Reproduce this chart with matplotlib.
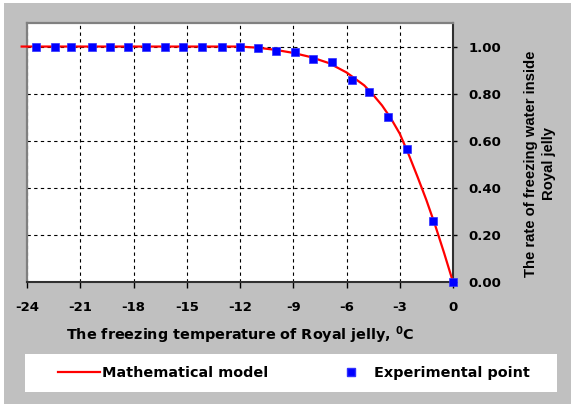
import matplotlib
matplotlib.use("Agg")
import matplotlib.pyplot as plt
from matplotlib.patches import Rectangle
from matplotlib.lines import Line2D

# ---- data ----
exp_temp = [-23.5, -22.4, -21.5, -20.35, -19.35, -18.3, -17.3, -16.2, -15.2, -14.15,
            -13.0, -12.0, -11.0, -9.95, -8.9, -7.9, -6.8, -5.7, -4.75, -3.65,
            -2.6, -1.1, 0.0]
exp_rate = [1.0, 1.0, 1.0, 1.0, 1.0, 1.0, 1.0, 1.0, 1.0, 1.0,
            1.0, 1.0, 0.994, 0.983, 0.977, 0.949, 0.933, 0.86, 0.807, 0.699,
            0.566, 0.261, 0.0]

model_temp = [-24.3, -12.0, -11.0, -10.0, -9.0, -8.0, -7.0, -6.0, -5.0, -4.5, -4.0,
              -3.5, -3.0, -2.5, -2.0, -1.5, -1.0, -0.5, 0.0]
model_rate = [1.0, 1.0, 0.995, 0.986, 0.973, 0.955, 0.93, 0.89, 0.835, 0.795, 0.75,
              0.695, 0.63, 0.542, 0.447, 0.348, 0.24, 0.123, 0.0]

x_ticks = [-24, -21, -18, -15, -12, -9, -6, -3, 0]
y_ticks = [0.0, 0.2, 0.4, 0.6, 0.8, 1.0]

xlabel = r"The freezing temperature of Royal jelly, $^{\mathbf{0}}$C"
ylabel = "The rate of freezing water inside\nRoyal jelly"
legend_labels = ["Mathematical model", "Experimental point"]

plt.rcParams['font.family'] = ['DejaVu Sans']
plt.rcParams['font.weight'] = 'bold'
plt.rcParams['mathtext.fontset'] = 'dejavusans'

W, H = 571, 408
fig = plt.figure(figsize=(W / 100, H / 100), dpi=100, facecolor='white')

# gray background panel
fig.patches.append(Rectangle((4 / W, 4 / H), 1 - 4 / W, 1 - 7 / H,
                             transform=fig.transFigure, facecolor='#C0C0C0',
                             edgecolor='none', zorder=-10))
# white legend box
fig.patches.append(Rectangle((25 / W, 1 - 392 / H), 532 / W, 38 / H,
                             transform=fig.transFigure, facecolor='white',
                             edgecolor='none', zorder=-5))

ax = fig.add_axes([27 / W, 1 - 282 / H, 426 / W, 259 / H])
ax.set_zorder(2)
ax.set_facecolor('white')
ax.set_xlim(-24, 0)
ax.set_ylim(0, 1.1)

ax.plot(model_temp, model_rate, color='#FF0000', lw=1.6, clip_on=False, zorder=3)
ax.plot(exp_temp, exp_rate, linestyle='none', marker='s', markersize=5.8,
        markerfacecolor='#0000FF', markeredgecolor='#3030FF', markeredgewidth=0.5,
        clip_on=False, zorder=4)

ax.set_xticks(x_ticks)
ax.set_xticklabels([str(t) for t in x_ticks])
ax.set_yticks(y_ticks)
ax.set_yticklabels([f"{v:.2f}" for v in y_ticks])
ax.yaxis.tick_right()
ax.tick_params(axis='x', direction='out', length=4, width=1, pad=10,
               labelsize=9.5, colors='black')
ax.tick_params(axis='y', direction='out', length=3, width=1, pad=8,
               labelsize=9.5, colors='black')
for lbl in ax.get_xticklabels() + ax.get_yticklabels():
    lbl.set_fontweight('bold')

ax.grid(True, color='black', linestyle=(0, (3, 3)), linewidth=0.8)
ax.set_axisbelow(True)

for side in ['left', 'top']:
    ax.spines[side].set_color('#808080')
    ax.spines[side].set_linewidth(1.6)
for side in ['right', 'bottom']:
    ax.spines[side].set_color('#303030')
    ax.spines[side].set_linewidth(1.5)

ax.set_xlabel(xlabel, fontsize=10.4, fontweight='bold', labelpad=7)

fig.text(540 / W, 1 - 164 / H, ylabel, rotation=90, ha='center', va='center',
         multialignment='center', fontsize=10.7, fontweight='bold', linespacing=1.45,
         family=['Liberation Sans', 'DejaVu Sans'])

handles = [Line2D([], [], color='#FF0000', lw=1.6),
           Line2D([], [], linestyle='none', marker='s', markersize=5.8,
                  markerfacecolor='#0000FF', markeredgecolor='#3030FF')]
leg = fig.legend(handles, legend_labels, loc='center left',
                 bbox_to_anchor=(58 / W, 1 - 373 / H), ncol=2, frameon=False,
                 borderpad=0, borderaxespad=0, handlelength=2.9, handletextpad=0.15,
                 columnspacing=4.3, prop={'size': 10.4, 'weight': 'bold'})
leg.set_zorder(5)

fig.savefig('out.png', dpi=100, facecolor='white')
